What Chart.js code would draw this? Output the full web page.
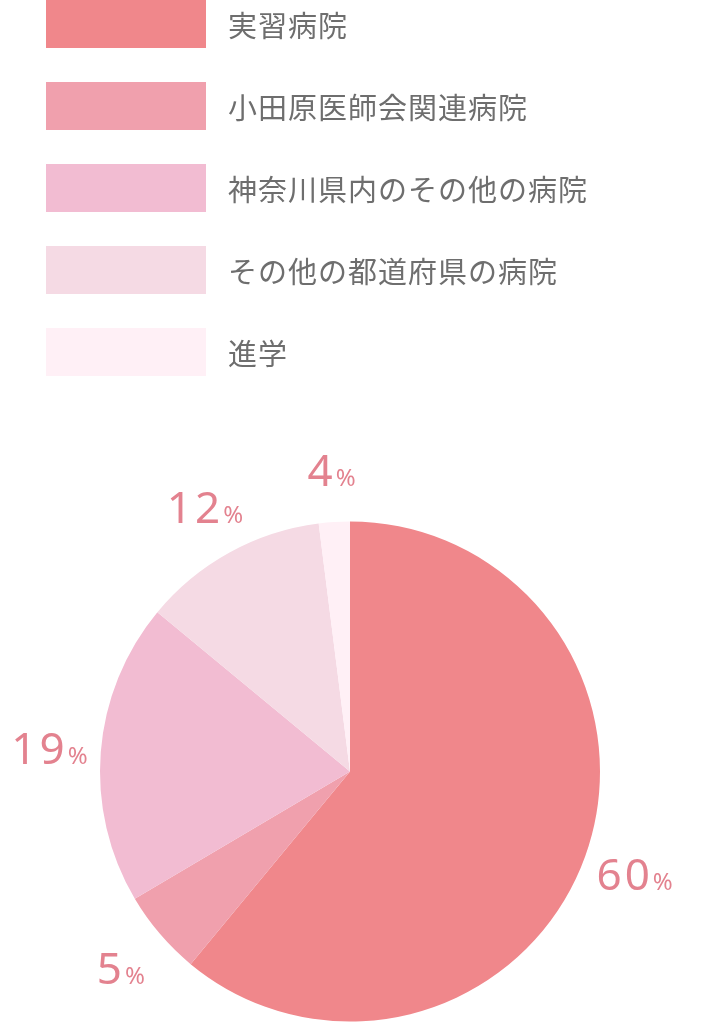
<!DOCTYPE html>
<html><head><meta charset="utf-8">
<script src="https://cdn.jsdelivr.net/npm/chart.js@4"></script>
<style>
html,body{margin:0;padding:0;background:#fff;width:704px;height:1022px;overflow:hidden;font-family:"Noto Sans CJK JP",sans-serif}
#wrap{position:relative;width:704px;height:1022px}
#legend{position:absolute;left:46px;top:0}
.item{display:flex;align-items:center;height:48px;margin-bottom:34px}
.box{width:160px;height:48px;margin-right:22px}
.txt{font-size:29px;color:#6e6e6e;letter-spacing:1px}
</style></head><body>
<div id="wrap"><canvas id="c" width="704" height="1022"></canvas><div id="legend"></div></div>
<script>
const categories=["実習病院","小田原医師会関連病院","神奈川県内のその他の病院","その他の都道府県の病院","進学"];
const values=[61,5.5,19.5,12,2];
const valueLabels=["60","5","19","12","4"];
const colors=["#f0878b","#f0a0ad","#f2bcd2","#f5dae4","#fff0f6"];
const lg=document.getElementById('legend');
categories.forEach((c,i)=>{lg.innerHTML+=`<div class="item"><div class="box" style="background:${colors[i]}"></div><div class="txt">${c}</div></div>`;});
const labelPlugin={id:'lbl',afterDatasetsDraw(chart){
 const ctx=chart.ctx;const meta=chart.getDatasetMeta(0);
 meta.data.forEach((arc,i)=>{
  const mid=(arc.startAngle+arc.endAngle)/2;const r=arc.outerRadius+52;
  const x=arc.x+Math.cos(mid)*r,y=arc.y+Math.sin(mid)*r;
  ctx.save();ctx.fillStyle="#e3828f";ctx.textBaseline="alphabetic";
  ctx.font="44px 'Noto Sans', sans-serif";
  const n=valueLabels[i];const nw=ctx.measureText(n).width+ (n.length-1)*3;
  ctx.font="24px 'Noto Sans', sans-serif";const pw=ctx.measureText('%').width;
  let sx=x-(nw+pw+2)/2;
  ctx.font="44px 'Noto Sans', sans-serif";
  for(const ch of n){ctx.fillText(ch,sx,y+16);sx+=ctx.measureText(ch).width+3;}
  ctx.font="24px 'Noto Sans', sans-serif";ctx.fillText('%',sx,y+16);
  ctx.restore();
 });
}};
new Chart(document.getElementById('c'),{type:'pie',
 data:{labels:categories,datasets:[{data:values,backgroundColor:colors,borderWidth:0}]},
 options:{responsive:false,animation:false,layout:{padding:{top:521,bottom:0,left:100,right:104}},
  plugins:{legend:{display:false},tooltip:{enabled:false}}},
 plugins:[labelPlugin]});
</script></body></html>
